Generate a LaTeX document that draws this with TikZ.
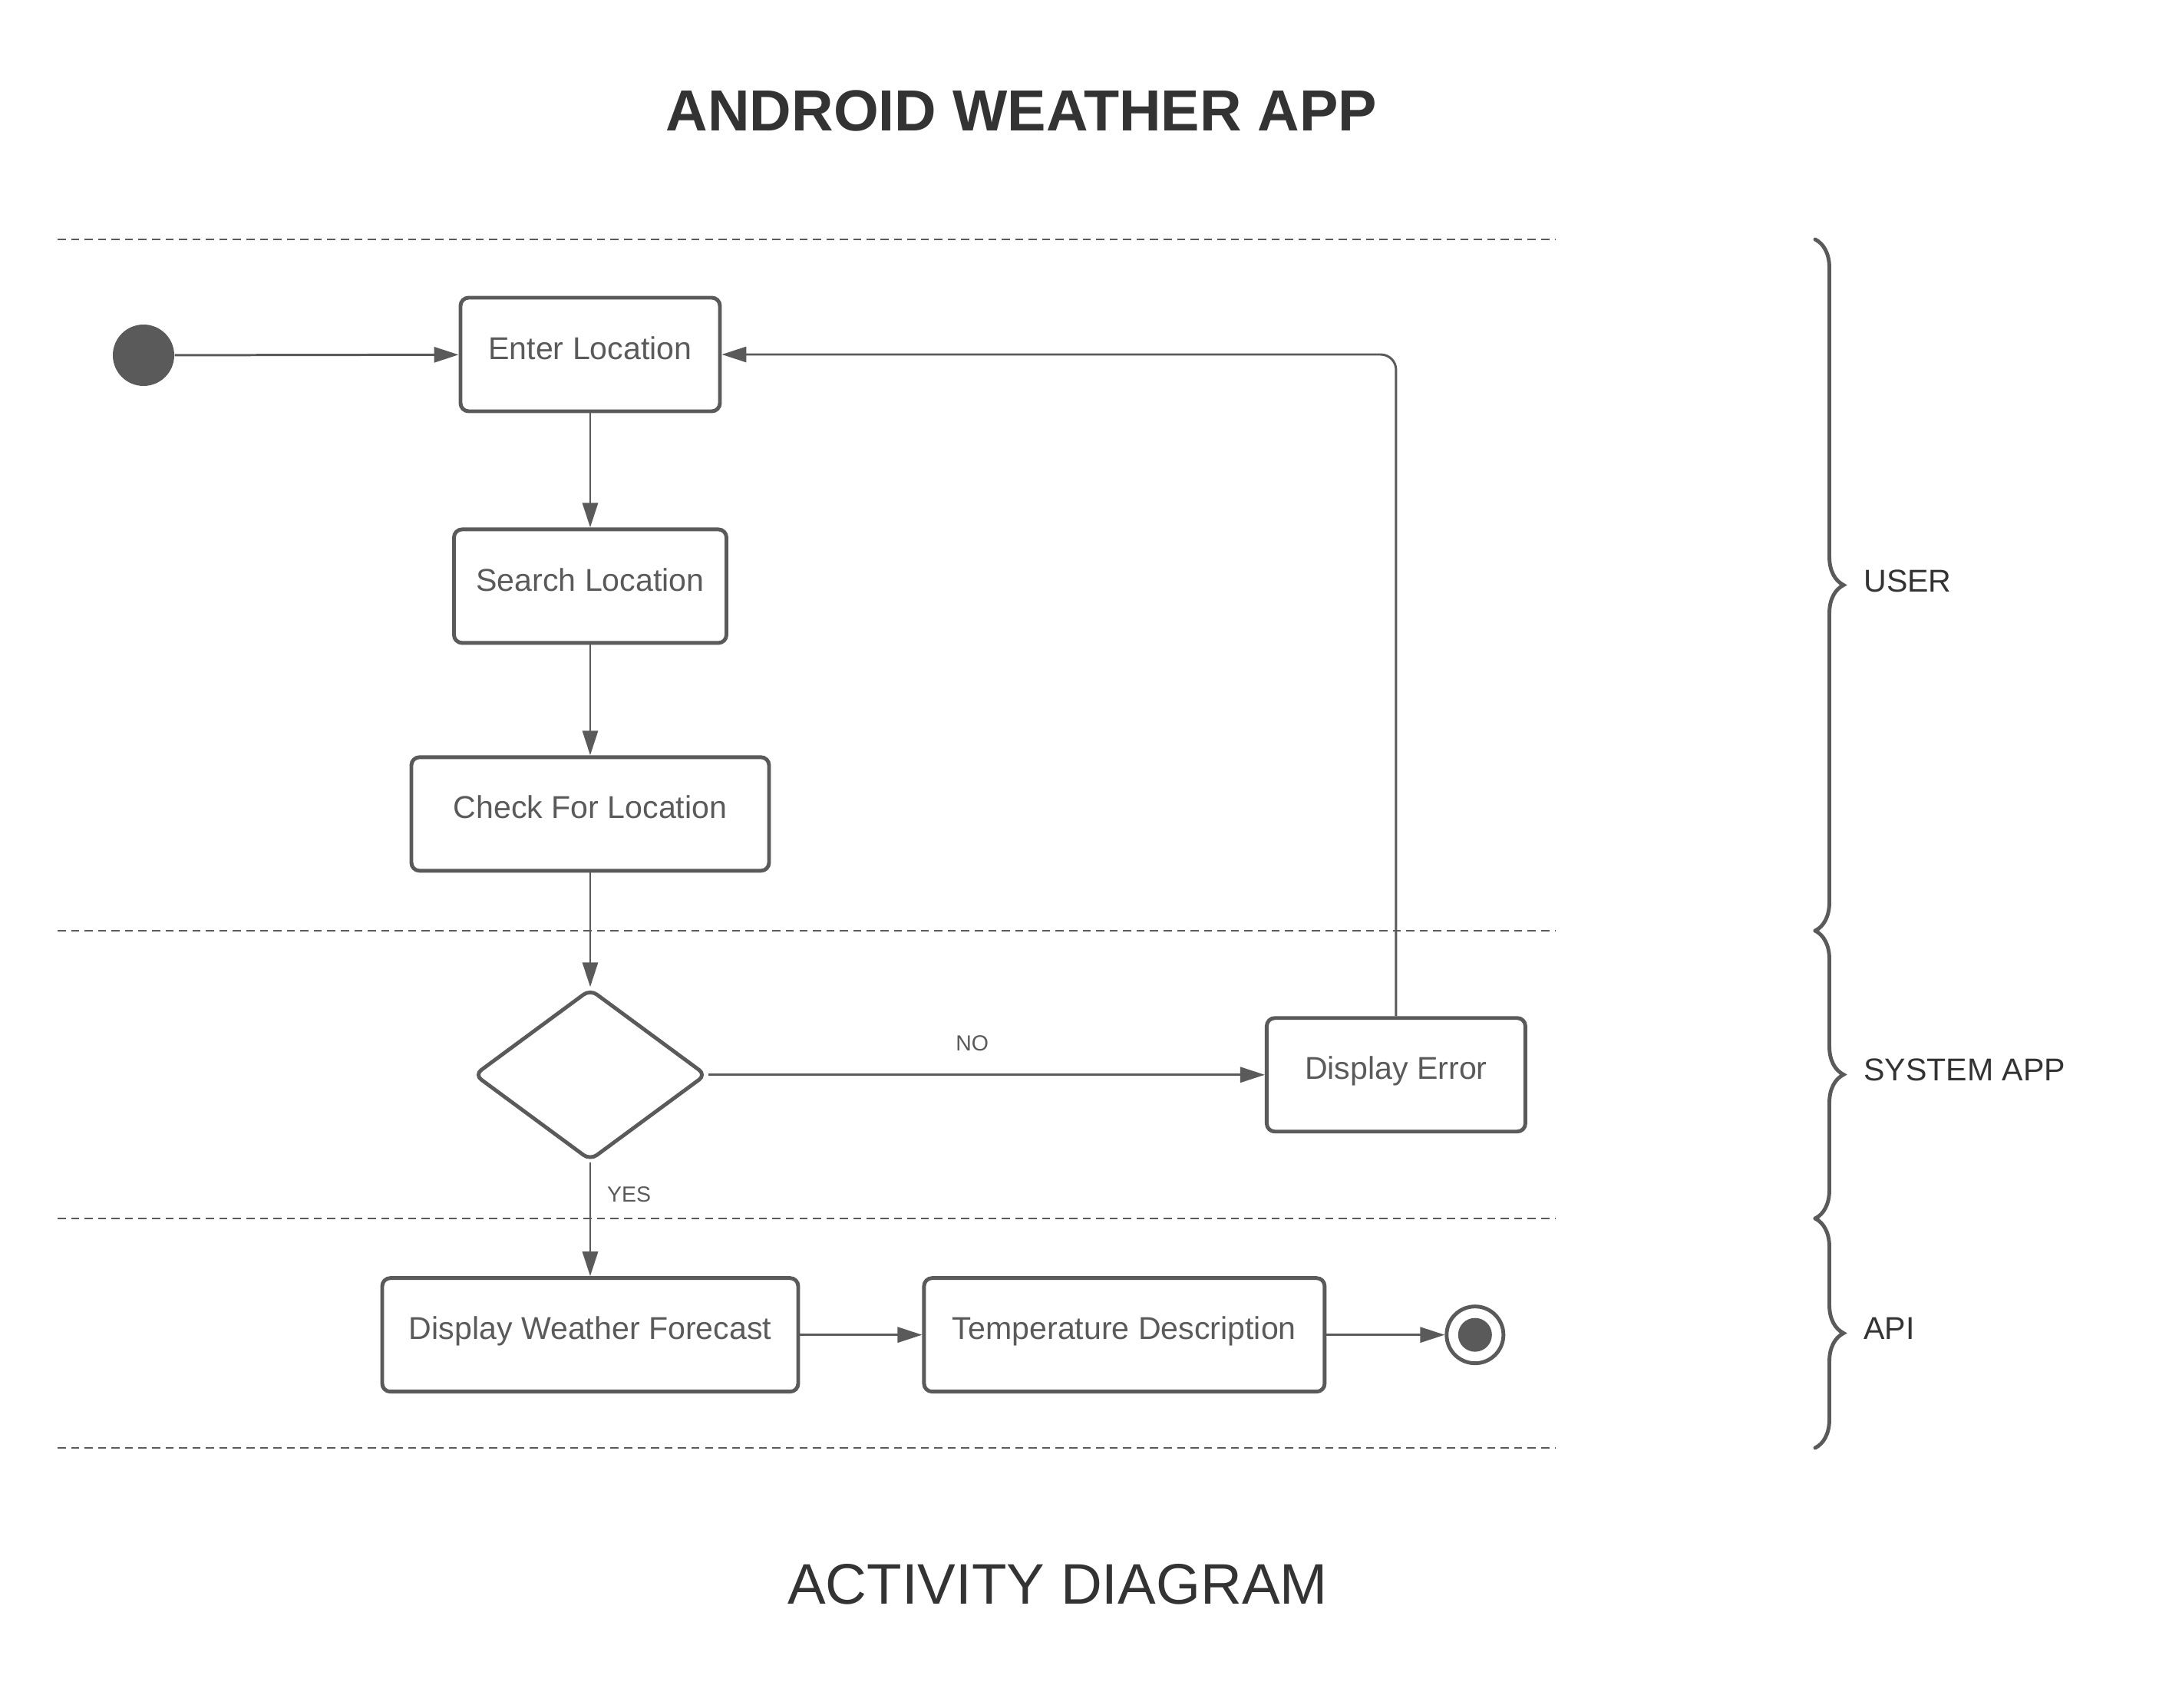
\documentclass[tikz,border=0pt]{standalone}
\usepackage{fontspec}
\setmainfont{Liberation Sans}
\usetikzlibrary{arrows.meta,positioning,shapes.geometric,decorations.pathreplacing}
\definecolor{ink}{RGB}{90,90,90}
\definecolor{head}{RGB}{51,51,51}

\begin{document}
\begin{tikzpicture}[node distance=1.5cm,
  box/.style={draw=ink,line width=1.4pt,rounded corners=3pt,align=center,text=ink,
              font=\fontsize{11.7}{14}\selectfont,minimum height=1.48cm,inner sep=2pt,
              text height=0.75em,text depth=0.4em},
  dec/.style={diamond,draw=ink,line width=1.4pt,rounded corners=3pt,
              minimum width=3.03cm,minimum height=2.24cm,inner sep=0pt},
  init/.style={circle,fill=ink,minimum size=8mm,inner sep=0pt},
  fin/.style={circle,draw=ink,line width=1.4pt,minimum size=7.4mm,inner sep=0pt,
              path picture={\fill[ink] (path picture bounding box.center) circle (2.2mm);}},
  a/.style={-{Triangle[length=3.2mm,width=2mm]},ink,line width=0.85pt},
  lane/.style={ink,line width=0.85pt,dash pattern=on 3pt off 2pt},
  br/.style={ink,line width=1.4pt,line cap=round,decorate,decoration={brace,amplitude=3.7mm}},
  lbl/.style={font=\fontsize{8.1}{10}\selectfont,text=ink},
  role/.style={anchor=west,font=\fontsize{11.7}{14}\selectfont,text=head}]
 \useasboundingbox (0,0) rectangle (28.13,-22.26);
 % titles
 \node[font=\fontsize{21.5}{26}\selectfont\bfseries,text=head] (title) at (13.31,-1.44) {ANDROID WEATHER APP};
 \node[font=\fontsize{21.2}{26}\selectfont,text=head] (caption) at (13.78,-20.65) {ACTIVITY DIAGRAM};
 % swimlanes
 \foreach \y in {3.12,12.13,15.88,18.87}
   \draw[lane] (0.75,-\y) -- (20.27,-\y);
 \draw[br] (23.65,-3.12) -- (23.65,-12.13);
 \draw[br] (23.65,-12.13) -- (23.65,-15.88);
 \draw[br] (23.65,-15.88) -- (23.65,-18.87);
 \node[role] (user) at (24.16,-7.57) {USER};
 \node[role] (sys) at (24.16,-13.94) {SYSTEM APP};
 \node[role] (api) at (24.16,-17.31) {API};
 % activities
 \node[init] (s0) at (1.87,-4.63) {};
 \node[box,minimum width=3.38cm] (s1) at (7.69,-4.62) {Enter Location};
 \node[box,minimum width=3.55cm,below=1.49cm of s1] (s2) {Search Location};
 \node[box,minimum width=4.66cm,below=1.44cm of s2] (s3) {Check For Location};
 \node[dec,below=1.49cm of s3] (d) {};
 \node[box,minimum width=3.37cm,right=7.25cm of d] (err) {Display Error};
 \node[box,minimum width=5.42cm,below=1.48cm of d] (s4) {Display Weather Forecast};
 \node[box,minimum width=5.22cm,right=1.59cm of s4] (s5) {Temperature Description};
 \node[fin,right=1.54cm of s5] (e) {};
 % flow
 \draw[a] (s0)--(s1); \draw[a] (s1)--(s2); \draw[a] (s2)--(s3); \draw[a] (s3)--(d);
 \draw[a] (d)--node[lbl,pos=0.474,above=1.8mm]{NO}(err);
 \draw[a] (d)--node[lbl,pos=0.28,right=0.9mm]{YES}(s4);
 \draw[a,rounded corners=2mm] (err.north) |- (s1.east);
 \draw[a] (s4)--(s5); \draw[a] (s5)--(e);
\end{tikzpicture}
\end{document}
